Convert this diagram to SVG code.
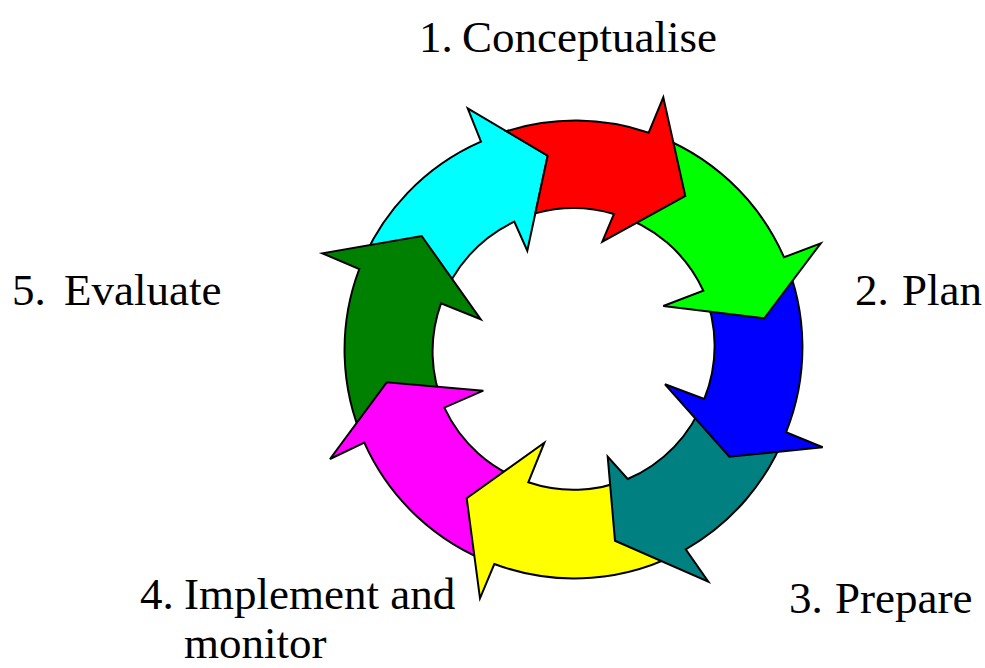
<svg xmlns="http://www.w3.org/2000/svg" width="985" height="668" viewBox="0 0 985 668">
<style>
.arrow{stroke:#000;stroke-width:2;stroke-linejoin:miter}
.lbl{font-family:"Liberation Serif","Times New Roman",serif;font-size:45px;fill:#000}
</style>
<rect width="985" height="668" fill="#fff"/>
<g id="connectors"/>
<g id="arrow-cyan"><path class="arrow" fill="#00FFFF" d="M359.3,269 A228.5,228.5 0 0 1 481,141.7 L467.7,108.3 L547.7,155.7 L527.3,250.7 L514.3,221.7 A141,141 0 0 0 441,303.3 Z"/></g>
<g id="arrow-darkgreen"><path class="arrow" fill="#008000" d="M364.3,442.7 A228.5,228.5 0 0 1 359.3,269 L322.3,253.3 L421.7,236 L480.7,319.3 L441,303.3 A141,141 0 0 0 444.3,407.7 Z"/></g>
<g id="arrow-magenta"><path class="arrow" fill="#FF00FF" d="M494.3,564 A228.5,228.5 0 0 1 364.3,442.7 L330,459 L386.7,382.3 L483.3,390.7 L444.3,407.7 A141,141 0 0 0 528.3,482.3 Z"/></g>
<g id="arrow-yellow"><path class="arrow" fill="#FFFF00" d="M685.7,549.3 A228.5,228.5 0 0 1 494.3,564 L480,598.3 L466.7,498.3 L544.3,442.7 L528.3,482.3 A141,141 0 0 0 627.7,479 Z"/></g>
<g id="arrow-teal"><path class="arrow" fill="#008080" d="M786,432.3 A228.5,228.5 0 0 1 685.7,549.3 L708.3,581.7 L615,540.7 L607.7,456.7 L627.7,479 A141,141 0 0 0 704.3,399 Z"/></g>
<g id="arrow-blue"><path class="arrow" fill="#0000FF" d="M784,257.3 A228.5,228.5 0 0 1 786,432.3 L822.7,447.3 L729.3,456.7 L665,384.3 L704.3,399 A141,141 0 0 0 703.3,290.7 Z"/></g>
<g id="arrow-green"><path class="arrow" fill="#00FF00" d="M648.7,132.7 A228.5,228.5 0 0 1 784,257.3 L820.7,243.3 L764.3,318.3 L663.3,306 L703.3,290.7 A141,141 0 0 0 614,214 Z"/></g>
<g id="arrow-red"><path class="arrow" fill="#FF0000" d="M506.4,131.2 A228.5,228.5 0 0 1 648.7,132.7 L663.3,97.3 L685.3,196 L602.3,241.7 L614,214 A141,141 0 0 0 535.3,213.4 L547.7,155.7 Z"/></g>
<g id="label-1"><text class="lbl" x="419" y="52">1.</text><text class="lbl" x="462" y="52">Conceptualise</text></g>
<g id="label-2"><text class="lbl" x="855" y="305">2.</text><text class="lbl" x="902" y="305">Plan</text></g>
<g id="label-3"><text class="lbl" x="789" y="613">3.</text><text class="lbl" x="835" y="613">Prepare</text></g>
<g id="label-4"><text class="lbl" x="140" y="609">4.</text><text class="lbl" x="184" y="609">Implement and</text><text class="lbl" x="184" y="658">monitor</text></g>
<g id="label-5"><text class="lbl" x="12" y="305">5.</text><text class="lbl" x="64" y="305">Evaluate</text></g>
</svg>
